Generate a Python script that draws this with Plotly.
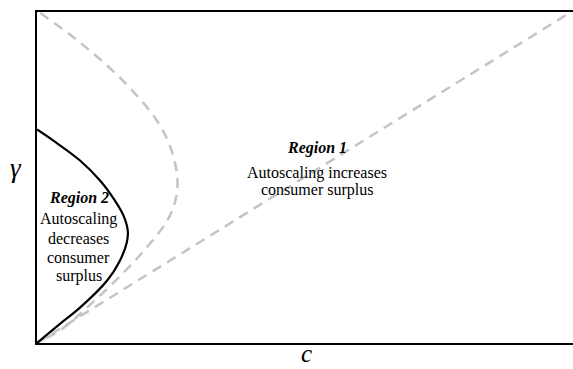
import plotly.graph_objects as go

# Boundary curves (c, gamma)
black_c = [0.0, 0.030, 0.080, 0.118, 0.146, 0.162, 0.170, 0.168, 0.155, 0.131, 0.080, 0.043, 0.0]
black_g = [0.645, 0.612, 0.552, 0.491, 0.430, 0.385, 0.339, 0.303, 0.248, 0.188, 0.106, 0.058, 0.0]

gray_c = [0.006, 0.075, 0.160, 0.224, 0.252, 0.263, 0.259, 0.244, 0.205, 0.160, 0.093, 0.049, 0.0]
gray_g = [0.997, 0.915, 0.794, 0.673, 0.582, 0.491, 0.430, 0.370, 0.288, 0.209, 0.106, 0.045, 0.0]

diag_c = [0.0, 1.0]
diag_g = [0.0, 1.0]

SERIF = "Liberation Serif, Times New Roman, serif"
GRAY = "#c4c4c4"

fig = go.Figure()
fig.add_trace(go.Scatter(x=gray_c, y=gray_g, mode="lines",
                         line=dict(color=GRAY, width=2.5, dash="10px,7px", shape="spline", smoothing=1.0),
                         hoverinfo="skip"))
fig.add_trace(go.Scatter(x=diag_c, y=diag_g, mode="lines",
                         line=dict(color=GRAY, width=2.5, dash="10px,7px"),
                         hoverinfo="skip"))
fig.add_trace(go.Scatter(x=black_c, y=black_g, mode="lines",
                         line=dict(color="black", width=2.2, shape="spline", smoothing=1.0),
                         hoverinfo="skip"))

W, H = 580, 369
L, R, T, B = 37, 2, 12, 26
pw = W - L - R
ph = H - T - B
xmax = pw / 536.0

def ann(text, x, y, size=16):
    fig.add_annotation(text=text, x=x, y=y, xref="x", yref="y", showarrow=False,
                       font=dict(family=SERIF, size=size, color="black"),
                       xanchor="center", yanchor="middle")

ann("<b><i>Region 1</i></b>", 0.524, 0.588)
ann("Autoscaling increases", 0.524, 0.515)
ann("consumer surplus", 0.524, 0.461)

ann("<b><i>Region 2</i></b>", 0.078, 0.439)
ann("Autoscaling", 0.078, 0.376)
ann("decreases", 0.078, 0.315)
ann("consumer", 0.078, 0.258)
ann("surplus", 0.078, 0.203)

# axis titles placed in paper coordinates
fig.add_annotation(text="<i>γ</i>", x=(16 - L) / pw, y=(H - B - 168) / ph,
                   xref="paper", yref="paper", showarrow=False,
                   font=dict(family=SERIF, size=27, color="black"), xanchor="center", yanchor="middle")
fig.add_annotation(text="<i>c</i>", x=(307 - L) / pw, y=(H - B - 369) / ph,
                   xref="paper", yref="paper", showarrow=False,
                   font=dict(family=SERIF, size=25, color="black"), xanchor="center", yanchor="bottom")

fig.update_xaxes(range=[0, xmax], showgrid=False, zeroline=False, showticklabels=False, ticks="",
                 showline=True, mirror=True, linecolor="black", linewidth=2)
fig.update_yaxes(range=[0, 1], showgrid=False, zeroline=False, showticklabels=False, ticks="",
                 showline=True, mirror=True, linecolor="black", linewidth=2)

fig.update_layout(width=W, height=H, margin=dict(l=L, r=R, t=T, b=B),
                  plot_bgcolor="white", paper_bgcolor="white", showlegend=False)

fig.write_html("out.html")
